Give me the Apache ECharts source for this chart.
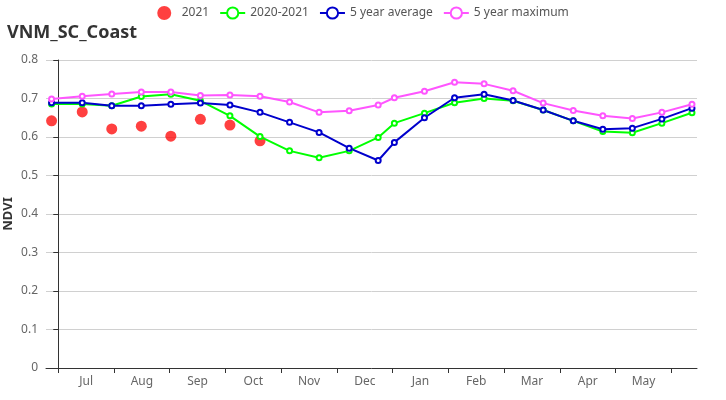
<!DOCTYPE html>
<html>
<head>
<meta charset="utf-8">
<script src="https://cdn.jsdelivr.net/npm/echarts@6/dist/echarts.min.js"></script>
<style>html,body{margin:0;padding:0;background:#fff;}#c{width:726px;height:400px;}</style>
</head>
<body>
<div id="c"></div>
<script>
// Month labels (Jul .. May), ticks at month boundaries (0 = start of Jul)
var monthLabels = ['Jul','Aug','Sep','Oct','Nov','Dec','Jan','Feb','Mar','Apr','May'];
// x position of each composite, in months since start of July
var xPos = [-0.12, 0.43, 0.96, 1.49, 2.02, 2.55, 3.08, 3.62, 4.15, 4.68, 5.22, 5.74, 6.03, 6.57, 7.11, 7.64, 8.16, 8.70, 9.24, 9.77, 10.30, 10.83, 11.37];
var ndvi2021 = [0.642, 0.665, 0.621, 0.628, 0.602, 0.646, 0.631, 0.590];
var ndvi20202021 = [0.686, 0.686, 0.681, 0.705, 0.711, 0.694, 0.655, 0.601, 0.564, 0.546, 0.564, 0.599, 0.636, 0.662, 0.689, 0.700, 0.694, 0.670, 0.642, 0.614, 0.611, 0.636, 0.663];
var avg5 = [0.689, 0.689, 0.681, 0.681, 0.685, 0.688, 0.683, 0.664, 0.638, 0.612, 0.571, 0.539, 0.586, 0.650, 0.702, 0.711, 0.695, 0.670, 0.642, 0.620, 0.623, 0.647, 0.675];
var max5 = [0.699, 0.706, 0.712, 0.717, 0.717, 0.708, 0.709, 0.706, 0.691, 0.664, 0.668, 0.683, 0.702, 0.719, 0.742, 0.738, 0.720, 0.688, 0.669, 0.655, 0.648, 0.664, 0.685];
var yTicks = [0, 0.1, 0.2, 0.3, 0.4, 0.5, 0.6, 0.7, 0.8];

function pairs(xs, ys) { return ys.map(function (v, i) { return [xs[i], v]; }); }
var tickVals = []; for (var i = 0; i <= monthLabels.length; i++) tickVals.push(i);
var labelVals = monthLabels.map(function (m, i) { return i + 0.5; });

var FONT = 'Noto Sans';
var chart = echarts.init(document.getElementById('c'), null, { renderer: 'canvas' });
chart.setOption({
  animation: false,
  textStyle: { fontFamily: FONT },
  title: {
    text: 'VNM_SC_Coast', left: 2, top: 19,
    textStyle: { fontFamily: FONT, fontSize: 18, fontWeight: 'bold', color: '#333' }
  },
  legend: {
    top: 1, left: 'center', itemWidth: 25, itemHeight: 14, itemGap: 10,
    textStyle: { fontFamily: FONT, fontSize: 12, color: '#555' },
    data: ['2021', '2020-2021', '5 year average', '5 year maximum']
  },
  grid: { left: 46, right: 29, top: 60, bottom: 32, containLabel: false, outerBoundsMode: 'none' },
  xAxis: {
    type: 'value', min: -0.22, max: 11.46,
    splitLine: { show: false },
    axisLine: { show: true, onZero: false, lineStyle: { color: '#333' } },
    axisTick: { show: true, customValues: tickVals, length: 5, lineStyle: { color: '#333' } },
    axisLabel: {
      customValues: labelVals, color: '#666', fontSize: 12, fontFamily: FONT, margin: 8,
      formatter: function (v) { return monthLabels[Math.floor(v)] || ''; }
    }
  },
  yAxis: {
    type: 'value', min: yTicks[0], max: yTicks[yTicks.length - 1], interval: 0.1,
    name: 'NDVI', nameLocation: 'middle', nameGap: 31, nameMoveOverlap: false,
    nameTextStyle: { fontFamily: FONT, fontSize: 13, fontWeight: 'bold', color: '#333' },
    axisLine: { show: true, lineStyle: { color: '#333' } },
    axisTick: { show: true, length: 5, lineStyle: { color: '#333' } },
    axisLabel: { color: '#666', fontSize: 12, fontFamily: FONT, margin: 8 },
    splitLine: { show: true, lineStyle: { color: '#d0d0d0' } }
  },
  series: [
    { name: '2021', type: 'scatter', data: pairs(xPos, ndvi2021), symbolSize: 11,
      itemStyle: { color: '#ff0000', opacity: 0.75 } },
    { name: '2020-2021', type: 'line', data: pairs(xPos, ndvi20202021), symbol: 'emptyCircle', symbolSize: 5,
      lineStyle: { color: '#00ff00', width: 2 }, itemStyle: { color: '#00ff00' } },
    { name: '5 year average', type: 'line', data: pairs(xPos, avg5), symbol: 'emptyCircle', symbolSize: 5,
      lineStyle: { color: '#0000cc', width: 2 }, itemStyle: { color: '#0000cc' } },
    { name: '5 year maximum', type: 'line', data: pairs(xPos, max5), symbol: 'emptyCircle', symbolSize: 5,
      lineStyle: { color: '#ff55ff', width: 2 }, itemStyle: { color: '#ff55ff' } }
  ]
});
</script>
</body>
</html>
